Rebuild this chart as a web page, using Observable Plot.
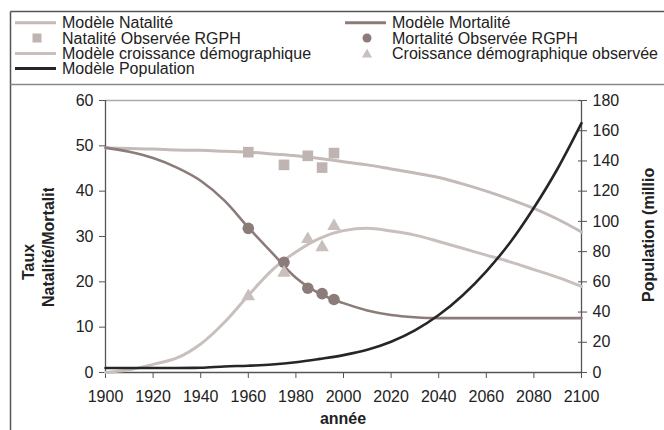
<!DOCTYPE html>
<html><head><meta charset="utf-8">
<script src="https://cdn.jsdelivr.net/npm/d3@7"></script>
<script src="https://cdn.jsdelivr.net/npm/@observablehq/plot@0.6"></script>
<style>
body{margin:0;background:#fff;}
</style></head><body><div id="chart"></div>
<script>
// ---- data ----
const years = [1900,1910,1920,1930,1940,1950,1960,1970,1980,1990,2000,2010,2020,2030,2040,2050,2060,2070,2080,2090,2100];
const natModel = [49.5,49.4,49.3,49.1,49.0,48.8,48.6,48.2,47.8,47.2,46.5,45.8,44.9,44.0,43.0,41.6,40.0,38.2,36.2,33.8,31.0];
const mortModel = [49.6,48.7,47.3,45.2,42.3,37.9,32.0,26.4,20.9,17.4,15.3,13.7,12.7,12.2,12.0,12.0,12.0,12.0,12.0,12.0,12.0];
const croisModel = [0.0,0.6,1.8,3.2,6.3,11.1,17.0,22.6,26.6,29.6,31.3,31.8,31.2,30.3,28.9,27.4,25.9,24.4,22.7,21.0,19.0];
const popModel = [3.0,3.0,3.0,3.0,3.1,4.0,4.5,5.3,6.8,9.0,11.5,15.0,20.3,27.8,38.0,51.0,67.0,86.0,109,135,165];

const obsYears = [1960,1975,1985,1991,1996];
const natObs = [48.6,45.8,47.8,45.2,48.4];
const mortObs = [31.8,24.3,18.6,17.4,16.1];
const croisObs = [16.8,22.0,29.4,27.6,32.3];

const xTicks = [1900,1920,1940,1960,1980,2000,2020,2040,2060,2080,2100];
const leftTicks = [0,10,20,30,40,50,60];
const rightTicks = [0,20,40,60,80,100,120,140,160,180];

const legendItems = [
  {label:"Modèle Natalité", kind:"line", color:"#c4bab8", col:0, row:0},
  {label:"Modèle Mortalité", kind:"line", color:"#8c7c79", col:1, row:0},
  {label:"Natalité Observée RGPH", kind:"square", color:"#bfb4b1", col:0, row:1},
  {label:"Mortalité Observée RGPH", kind:"circle", color:"#8c7c79", col:1, row:1},
  {label:"Modèle croissance démographique", kind:"line", color:"#c9c0be", col:0, row:2},
  {label:"Croissance démographique observée", kind:"triangle", color:"#c9c0be", col:1, row:2},
  {label:"Modèle Population", kind:"line", color:"#262626", col:0, row:3}
];

// ---- tables ----
const model = years.map((y,i)=>({year:y, nat:natModel[i], mort:mortModel[i], crois:croisModel[i], pop:popModel[i]}));
const obs = obsYears.map((y,i)=>({year:y, nat:natObs[i], mort:mortObs[i], crois:croisObs[i]}));
const ratio = 180/60;

const plot = Plot.plot({
  width:664, height:430,
  marginLeft:105, marginRight:83, marginTop:100, marginBottom:58,
  style:{fontFamily:"'Liberation Sans', Arial, sans-serif", fontSize:"16px", background:"white", color:"#222", overflow:"visible"},
  x:{domain:[1900,2100]},
  y:{domain:[0,60]},
  marks:[
    Plot.ruleY([60],{stroke:"#ababab", strokeWidth:1.5}),
    Plot.axisX({ticks:xTicks, tickSize:6, tickPadding:12, tickFormat:d=>String(d), label:null, stroke:"#555", fill:"#222"}),
    Plot.axisY({ticks:leftTicks, anchor:"left", tickSize:6, tickPadding:6, label:null, stroke:"#555", fill:"#222"}),
    Plot.axisY({ticks:rightTicks.map(v=>v/ratio), anchor:"right", tickSize:9, dx:-4, tickFormat:()=>"", label:null, stroke:"#555"}),
    Plot.axisY({ticks:rightTicks.map(v=>v/ratio), anchor:"right", tickSize:0, tickPadding:11, tickFormat:d=>String(Math.round(d*ratio)), label:null, fill:"#222"}),
    Plot.ruleX([1900],{stroke:"#555", strokeWidth:1.3}),
    Plot.ruleX([2100],{stroke:"#555", strokeWidth:1.3}),
    Plot.ruleY([0],{stroke:"#555", strokeWidth:1.3}),
    Plot.line(model,{x:"year", y:"nat", stroke:"#c4bab8", strokeWidth:3, curve:"monotone-x"}),
    Plot.line(model,{x:"year", y:"mort", stroke:"#8c7c79", strokeWidth:2.6, curve:"monotone-x"}),
    Plot.line(model,{x:"year", y:"crois", stroke:"#c9c0be", strokeWidth:3, curve:"monotone-x"}),
    Plot.dot(obs,{x:"year", y:"nat", symbol:"square", r:6, fill:"#bfb4b1"}),
    Plot.dot(obs,{x:"year", y:"mort", symbol:"circle", r:5.8, fill:"#8c7c79"}),
    Plot.dot(obs,{x:"year", y:"crois", symbol:"triangle", r:5, fill:"#c9c0be"}),
    Plot.line(model,{x:"year", y:d=>d.pop/ratio, stroke:"#262626", strokeWidth:2.6, curve:"monotone-x"})
  ]
});
document.getElementById("chart").appendChild(plot);

// ---- frame, titles, legend ----
const svg = d3.select(plot);
const font = "'Liberation Sans', Arial, sans-serif";
svg.append("line").attr("x1",10.5).attr("x2",664).attr("y1",11.5).attr("y2",11.5).attr("stroke","#555").attr("stroke-width",1.5);
svg.append("line").attr("x1",10.5).attr("x2",10.5).attr("y1",11.5).attr("y2",430).attr("stroke","#555").attr("stroke-width",1.5);
svg.append("line").attr("x1",10.5).attr("x2",664).attr("y1",84.5).attr("y2",84.5).attr("stroke","#888").attr("stroke-width",1.5);

const defs = svg.append("defs");
defs.append("clipPath").attr("id","clipL").append("rect").attr("x",0).attr("y",188).attr("width",100).attr("height",242);
defs.append("clipPath").attr("id","clipR").append("rect").attr("x",600).attr("y",168).attr("width",64).attr("height",262);

svg.append("text").text("année").attr("x",343).attr("y",424).attr("text-anchor","middle")
  .attr("font-family",font).attr("font-size",16).attr("font-weight","bold").attr("fill","#222");
svg.append("text").text("Taux").attr("transform","translate(34,262) rotate(-90)").attr("text-anchor","middle")
  .attr("font-family",font).attr("font-size",16).attr("font-weight","bold").attr("fill","#222");
svg.append("g").attr("clip-path","url(#clipL)").append("text").text("Natalité/Mortalité")
  .attr("transform","translate(54,307) rotate(-90)").attr("text-anchor","start")
  .attr("font-family",font).attr("font-size",16).attr("font-weight","bold").attr("fill","#222");
svg.append("g").attr("clip-path","url(#clipR)").append("text").text("Population (millions)")
  .attr("transform","translate(654,302) rotate(-90)").attr("text-anchor","start")
  .attr("font-family",font).attr("font-size",16).attr("font-weight","bold").attr("fill","#222");

const colX = [15, 345], textX = [62, 392], rowY = [22.7, 38, 53.5, 68.5];
const lg = svg.append("g");
legendItems.forEach(it=>{
  const x0 = colX[it.col], y = rowY[it.row], cx = x0 + 22;
  if (it.kind==="line") {
    lg.append("line").attr("x1",x0).attr("x2",x0+41).attr("y1",y).attr("y2",y).attr("stroke",it.color).attr("stroke-width",3);
  } else if (it.kind==="square") {
    lg.append("rect").attr("x",cx-4.5).attr("y",y-4.5).attr("width",9).attr("height",9).attr("fill",it.color);
  } else if (it.kind==="circle") {
    lg.append("circle").attr("cx",cx).attr("cy",y).attr("r",4.5).attr("fill",it.color);
  } else {
    lg.append("path").attr("d",`M${cx},${y-5}L${cx+5},${y+4}L${cx-5},${y+4}Z`).attr("fill",it.color);
  }
  lg.append("text").text(it.label).attr("x",textX[it.col]).attr("y",y).attr("dy","0.35em")
    .attr("text-anchor","start")
    .attr("font-family",font).attr("font-size",16).attr("fill","#222");
});
</script></body></html>
